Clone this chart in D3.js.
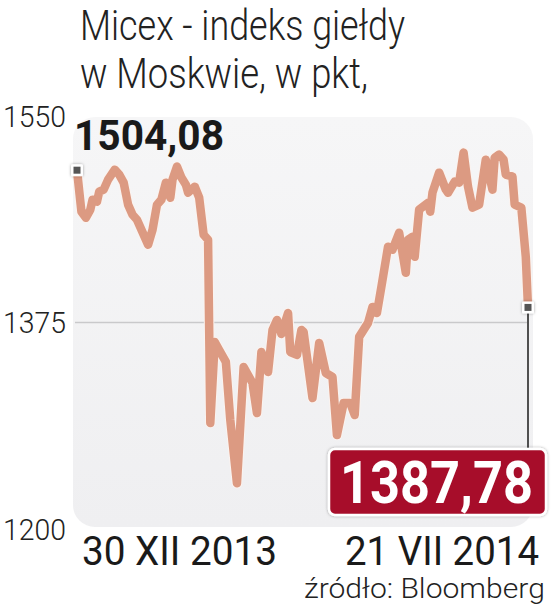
<!DOCTYPE html>
<html><head><meta charset="utf-8">
<script src="https://cdn.jsdelivr.net/npm/d3@7"></script>
<style>body{margin:0;background:#fff}svg{display:block}</style>
</head><body>
<svg id="c" width="558" height="609"></svg>
<script>
// ---- data ----
const dates = ["2013-12-30","2014-01-01","2014-01-03","2014-01-05","2014-01-06","2014-01-08","2014-01-09","2014-01-11","2014-01-13","2014-01-16","2014-01-18","2014-01-20","2014-01-22","2014-01-24","2014-01-26","2014-01-29","2014-01-31","2014-02-02","2014-02-04","2014-02-06","2014-02-08","2014-02-10","2014-02-11","2014-02-13","2014-02-15","2014-02-17","2014-02-18","2014-02-21","2014-02-23","2014-02-25","2014-02-27","2014-02-28","2014-03-02","2014-03-04","2014-03-07","2014-03-09","2014-03-12","2014-03-15","2014-03-17","2014-03-19","2014-03-21","2014-03-23","2014-03-26","2014-03-28","2014-03-30","2014-04-01","2014-04-04","2014-04-05","2014-04-08","2014-04-10","2014-04-11","2014-04-15","2014-04-18","2014-04-21","2014-04-24","2014-04-26","2014-04-29","2014-05-02","2014-05-04","2014-05-06","2014-05-10","2014-05-12","2014-05-14","2014-05-16","2014-05-19","2014-05-21","2014-05-24","2014-05-27","2014-05-28","2014-05-30","2014-05-31","2014-06-02","2014-06-06","2014-06-07","2014-06-08","2014-06-11","2014-06-14","2014-06-15","2014-06-18","2014-06-20","2014-06-22","2014-06-24","2014-06-26","2014-06-29","2014-07-02","2014-07-05","2014-07-06","2014-07-08","2014-07-10","2014-07-11","2014-07-14","2014-07-15","2014-07-18","2014-07-20","2014-07-21"];
const values = [1504.08,1468.9,1463.8,1470.6,1479.1,1477.4,1485.9,1487.6,1496.1,1504.5,1500.3,1493.5,1474.8,1466.3,1462.1,1449.4,1440.9,1453.6,1474.8,1479.1,1493.5,1480.8,1496.1,1507.1,1497.8,1491.8,1485.0,1490.1,1480.8,1449.4,1445.1,1289.8,1358.5,1351.7,1341.6,1292.3,1238.8,1337.3,1330.5,1323.7,1298.3,1350.0,1333.1,1368.7,1377.2,1365.3,1383.1,1350.0,1347.5,1368.7,1367.0,1311.0,1357.7,1332.2,1328.8,1279.6,1306.7,1306.7,1296.6,1362.8,1374.7,1388.2,1383.1,1405.2,1439.2,1436.6,1451.1,1417.1,1445.1,1447.7,1430.7,1470.6,1476.5,1468.9,1485.0,1502.0,1487.6,1485.0,1494.4,1493.5,1519.0,1490.1,1472.3,1474.8,1513.0,1487.6,1514.7,1517.3,1513.0,1500.3,1498.6,1474.8,1472.3,1430.7,1387.78];
const yTicks = [1200, 1375, 1550];
const xLabels = ["30 XII 2013", "21 VII 2014"];
const titleLines = ["Micex - indeks giełdy", "w Moskwie, w pkt,"];
const sourceText = "źródło: Bloomberg";
const firstLabel = "1504,08";
const lastLabel = "1387,78";

// ---- chart ----
const parse = d3.timeParse("%Y-%m-%d");
const data = dates.map((d, i) => ({date: parse(d), value: values[i]}));
const svg = d3.select("#c");
const F = "Roboto, 'Noto Sans', sans-serif";

const x = d3.scaleTime().domain([data[0].date, data[data.length-1].date]).range([77, 528]);
const y = d3.scaleLinear().domain([1200, 1550]).range([529, 116]);

// text horizontally scaled to a target width (mimics the condensed typeface)
function addText(str, px, py, width, opts, anchor) {
  const t = svg.append("text").attr("x", 0).attr("y", 0)
    .attr("font-family", F).attr("font-weight", opts.w).attr("font-size", opts.s)
    .attr("fill", opts.c).text(str);
  const w = t.node().getComputedTextLength();
  const s = width / w;
  const x0 = anchor === "end" ? px - w * s : px;
  t.attr("transform", `translate(${x0},${py}) scale(${s},1)`);
  return t;
}

const defs = svg.append("defs");
const g1 = defs.append("linearGradient").attr("id","bg").attr("x1",0).attr("x2",0).attr("y1",0).attr("y2",1);
g1.append("stop").attr("offset","0%").attr("stop-color","#f6f6f7");
g1.append("stop").attr("offset","100%").attr("stop-color","#efeff1");
const sh = defs.append("filter").attr("id","sh").attr("x","-50%").attr("y","-50%").attr("width","200%").attr("height","200%");
sh.append("feDropShadow").attr("dx",0).attr("dy",0).attr("stdDeviation",1.5).attr("flood-color","#000").attr("flood-opacity",0.35);

// title
titleLines.forEach((s, i) => addText(s, 80, 40 + i*48, i === 0 ? 325 : 288, {w:300, s:43, c:"#222"}));

// plot background
svg.append("rect").attr("x", 73).attr("y", 117).attr("width", 460).attr("height", 410)
  .attr("rx", 22).attr("fill", "url(#bg)");

// y tick labels
yTicks.forEach(v => addText(String(v), 66, y(v) + 10.5, 63, {w:300, s:30, c:"#222"}, "end"));

// gridline at middle tick
svg.append("line").attr("x1", 75).attr("x2", 527)
  .attr("y1", y(yTicks[1])).attr("y2", y(yTicks[1]))
  .attr("stroke", "#c9c9cb").attr("stroke-width", 1.5);

// line
const line = d3.line().x(d => x(d.date)).y(d => y(d.value));
svg.append("path").datum(data).attr("d", line)
  .attr("fill","none").attr("stroke","#fbf3ef").attr("stroke-width",10.5)
  .attr("stroke-linejoin","round").attr("stroke-linecap","round");
svg.append("path").datum(data).attr("d", line)
  .attr("fill","none").attr("stroke","#dc9a82").attr("stroke-width",8.5)
  .attr("stroke-linejoin","round").attr("stroke-linecap","round");

const first = data[0], last = data[data.length-1];

// leader line to value box
svg.append("line").attr("x1", x(last.date)).attr("x2", x(last.date))
  .attr("y1", y(last.value)).attr("y2", 449)
  .attr("stroke", "#1a1a1a").attr("stroke-width", 1.5);

// end markers
[first, last].forEach(d => {
  svg.append("rect").attr("x", x(d.date)-6).attr("y", y(d.value)-6)
    .attr("width", 12).attr("height", 12).attr("rx", 1.5)
    .attr("fill", "#fff").attr("filter","url(#sh)");
  svg.append("rect").attr("x", x(d.date)-3.5).attr("y", y(d.value)-3.5)
    .attr("width", 7).attr("height", 7).attr("fill", "#555");
});

// first value label
addText(firstLabel, 74, 150, 150, {w:700, s:42, c:"#1a1a1a"});

// last value box
svg.append("rect").attr("x", 329).attr("y", 449).attr("width", 217).attr("height", 66)
  .attr("rx", 6).attr("fill", "#a70f2c").attr("stroke", "#fff").attr("stroke-width", 2.5)
  .attr("filter","url(#sh)");
addText(lastLabel, 340, 503, 193, {w:700, s:60, c:"#fff"});

// x labels
xLabels.forEach((s, i) => addText(s, i === 0 ? 82 : 345, 565, i === 0 ? 195 : 194, {w:400, s:40, c:"#1a1a1a"}));

// source
addText(sourceText, 304, 598, 241, {w:300, s:28, c:"#222"});
</script>
</body></html>
